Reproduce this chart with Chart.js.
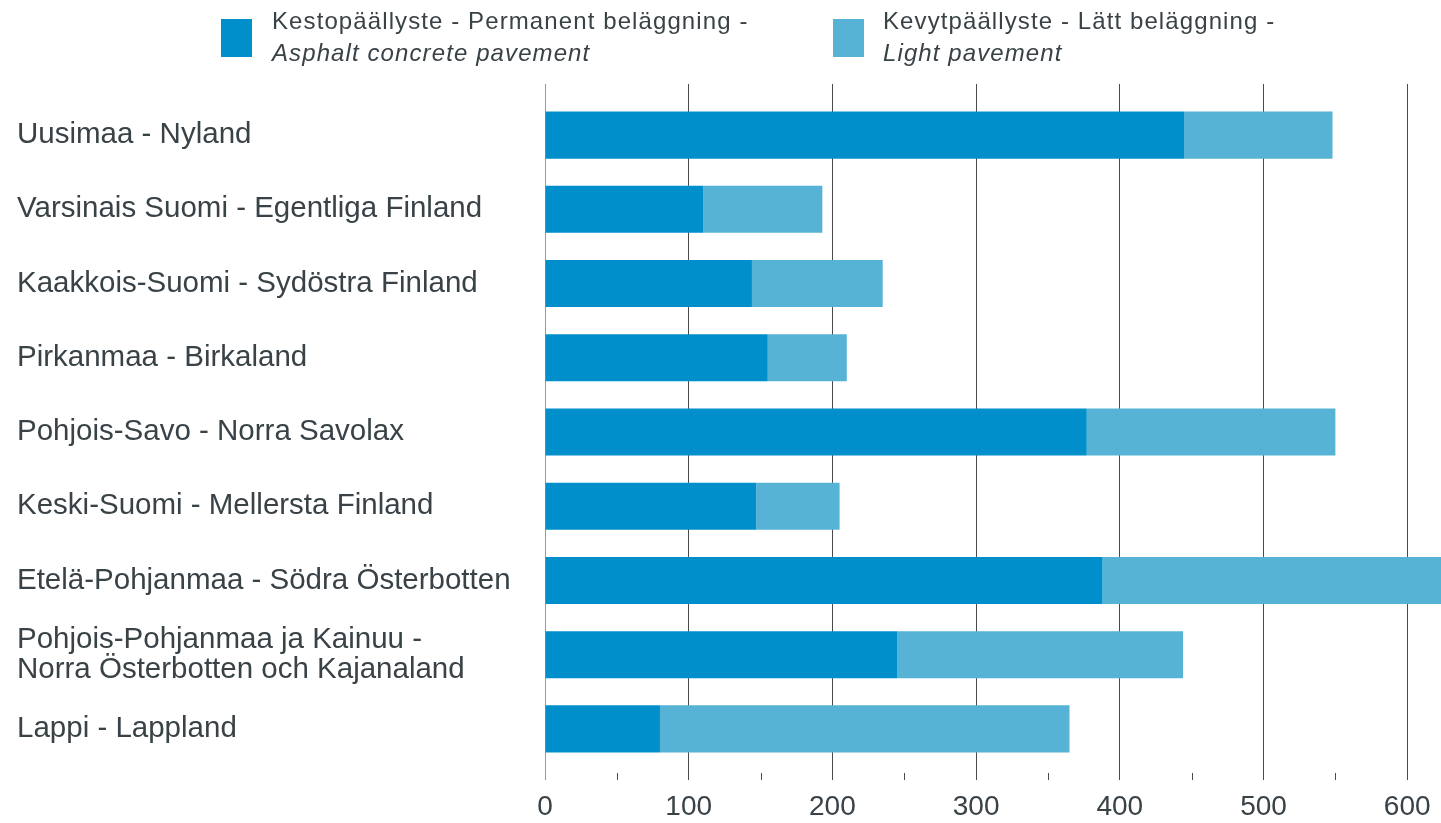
<!DOCTYPE html>
<html>
<head>
<meta charset="utf-8">
<script src="https://cdn.jsdelivr.net/npm/chart.js@4.4.1/dist/chart.umd.min.js"></script>
<style>
  html, body { margin: 0; padding: 0; background: #ffffff; }
  #wrap { position: relative; width: 1441px; height: 823px; overflow: hidden; }
  #c { position: absolute; left: 0; top: 0; }
  .leg { position: absolute; top: 0; font-family: 'Liberation Sans', Arial, sans-serif; font-size: 24px; letter-spacing: 1.1px; color: #394247; line-height: 32px; white-space: nowrap; }
  .leg i { font-style: italic; }
  .sw { position: absolute; top: 19px; width: 31px; height: 38px; }
</style>
</head>
<body>
<div id="wrap">
  <canvas id="c" width="1441" height="823"></canvas>
  <div class="sw" id="sw1" style="left:221px;"></div>
  <div class="leg" id="lg1" style="left:272px; top:5px;"></div>
  <div class="sw" id="sw2" style="left:833px;"></div>
  <div class="leg" id="lg2" style="left:883px; top:5px;"></div>
</div>
<script>
// ---- data ----
const categories = [
  'Uusimaa - Nyland',
  'Varsinais Suomi - Egentliga Finland',
  'Kaakkois-Suomi - Sydöstra Finland',
  'Pirkanmaa - Birkaland',
  'Pohjois-Savo - Norra Savolax',
  'Keski-Suomi - Mellersta Finland',
  'Etelä-Pohjanmaa - Södra Österbotten',
  ['Pohjois-Pohjanmaa ja Kainuu -', 'Norra Österbotten och Kajanaland'],
  'Lappi - Lappland'
];
const asphaltValues = [445, 110, 144, 155, 377, 147, 388, 245, 80];
const lightValues   = [103,  83,  91,  55, 173,  58, 240, 199, 285];
const seriesNames = [
  ['Kestopäällyste - Permanent beläggning -', 'Asphalt concrete pavement'],
  ['Kevytpäällyste - Lätt beläggning -', 'Light pavement']
];
const xTickValues = [0, 100, 200, 300, 400, 500, 600];
const xMinorValues = [50, 150, 250, 350, 450, 550];
const xMax = 623.5;

const colors = ['#008FCA', '#56B3D6'];
const textColor = '#394247';
const FONT = "'Liberation Sans', Arial, sans-serif";

// legend (HTML text)
document.getElementById('sw1').style.background = colors[0];
document.getElementById('sw2').style.background = colors[1];
document.getElementById('lg1').innerHTML = seriesNames[0][0] + '<br><i>' + seriesNames[0][1] + '</i>';
document.getElementById('lg2').innerHTML = seriesNames[1][0] + '<br><i>' + seriesNames[1][1] + '</i>';

const gridColor = (ctx) => (ctx.tick && ctx.tick.value === 0) ? '#9a9a9a' : '#4a4a4a';

const minorTicks = {
  id: 'minorTicks',
  afterDraw(chart) {
    const x = chart.scales.x;
    const ctx = chart.ctx;
    const bottom = chart.chartArea.bottom;
    ctx.save();
    ctx.strokeStyle = '#4a4a4a';
    ctx.lineWidth = 1;
    xMinorValues.forEach(v => {
      const px = Math.round(x.getPixelForValue(v)) + 0.5;
      ctx.beginPath();
      ctx.moveTo(px, bottom + 7);
      ctx.lineTo(px, bottom + 14);
      ctx.stroke();
    });
    ctx.restore();
  }
};

new Chart(document.getElementById('c'), {
  type: 'bar',
  data: {
    labels: categories,
    datasets: [
      { label: seriesNames[0].join(' '), data: asphaltValues, backgroundColor: colors[0], borderWidth: 0, xAxisID: 'x' },
      { label: seriesNames[1].join(' '), data: lightValues, backgroundColor: colors[1], borderWidth: 0, xAxisID: 'x' }
    ]
  },
  options: {
    indexAxis: 'y',
    responsive: false,
    animation: false,
    devicePixelRatio: 1,
    layout: { padding: { top: 84, left: 17, right: 0, bottom: 0 } },
    datasets: { bar: { categoryPercentage: 1, barPercentage: 0.634 } },
    plugins: { legend: { display: false }, tooltip: { enabled: false } },
    scales: {
      x: {
        type: 'linear',
        position: 'bottom',
        stacked: true,
        min: 0,
        max: xMax,
        afterBuildTicks(scale) { scale.ticks = xTickValues.map(v => ({ value: v })); },
        afterFit(scale) { scale.height = 57; },
        ticks: { includeBounds: false, color: textColor, padding: 10, font: { family: FONT, size: 28 } },
        grid: { color: gridColor, lineWidth: 1, tickLength: 14, tickColor: gridColor },
        border: { display: false }
      },
      x2: {
        type: 'linear',
        position: 'top',
        min: 0,
        max: xMax,
        afterBuildTicks(scale) { scale.ticks = xTickValues.map(v => ({ value: v })); },
        ticks: { display: false, includeBounds: false },
        grid: { color: gridColor, lineWidth: 1, tickLength: 14, drawOnChartArea: false, tickColor: gridColor },
        border: { display: false }
      },
      y: {
        stacked: true,
        afterFit(scale) { scale.width = 545 - 17; },
        ticks: { color: textColor, crossAlign: 'far', padding: 0, font: { family: FONT, size: 29.5, lineHeight: 1.0 } },
        grid: { display: false },
        border: { display: false }
      }
    }
  },
  plugins: [minorTicks]
});
</script>
</body>
</html>
